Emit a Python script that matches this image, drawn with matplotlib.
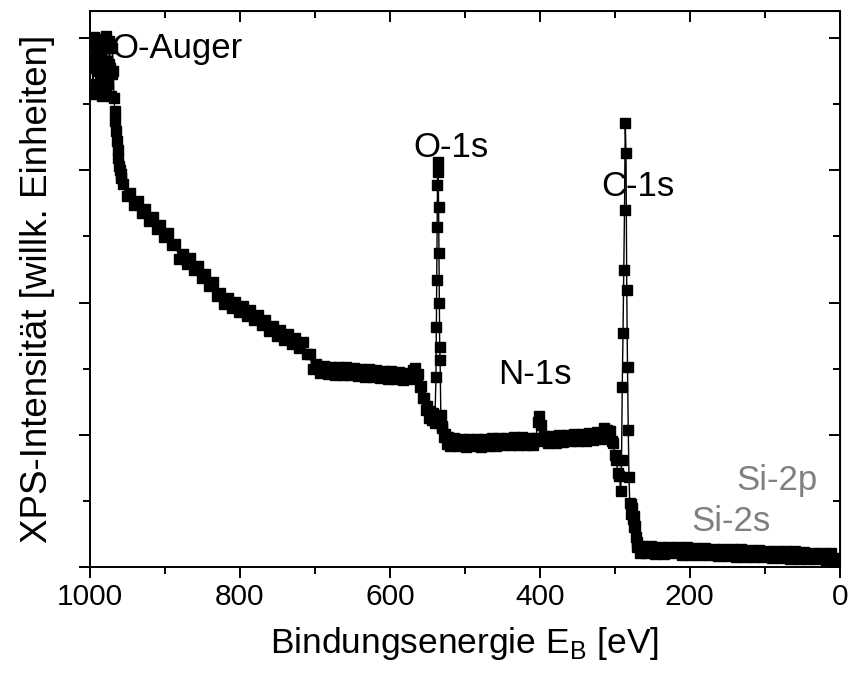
import numpy as np
import matplotlib
matplotlib.use('Agg')
import matplotlib.pyplot as plt
from matplotlib.ticker import MultipleLocator, NullFormatter

plt.rcParams['font.family'] = ['Liberation Sans', 'DejaVu Sans']
plt.rcParams['mathtext.fontset'] = 'custom'
plt.rcParams['mathtext.rm'] = 'Liberation Sans'

# XPS-Übersichtsspektrum, Werte (willk. Einheiten)
energie = [
    998, 997, 996, 995, 994, 993, 992, 991, 990, 989, 988, 987, 986, 985, 984,
    983, 982, 981, 980, 979, 978, 977, 976, 975, 974, 973, 972, 971, 970, 969,
    968, 967, 966, 965, 964, 963, 962, 961, 960, 959, 958,
    956, 951, 946, 941, 936, 931, 926, 921, 916, 911, 906, 901, 896, 891, 886,
    881, 876, 871, 866, 861, 856, 851, 846, 841, 836, 831, 826, 821, 816, 811,
    806, 801, 796, 791, 786, 781, 776, 771, 766, 761, 756, 751, 746, 741, 736,
    731, 726, 721, 716, 711, 707, 703, 698, 693,
    688, 683, 678, 673, 668, 663, 658, 653, 648, 643, 638, 633, 628, 623, 618,
    613, 608, 603, 598, 593, 588, 583, 578, 573, 569,
    566, 564, 562, 560, 558, 556, 554, 552, 550, 548, 546, 544, 542, 540,
    538.5, 538, 537.5, 537, 536.5, 536, 535.5, 535, 534.5, 534, 533.5, 533,
    532, 531, 530, 528, 526, 524, 522, 520, 518,
    514, 509, 504, 499, 494, 489, 484, 479, 474, 469, 464, 459, 454, 449, 444,
    439, 434, 429, 424, 419, 414, 409, 405,
    403, 401, 399, 397,
    394, 389, 384, 379, 374, 369, 364, 359, 354, 349, 344, 339, 334, 329, 324,
    319, 314, 310, 308, 306, 304, 302, 300, 298, 296, 294, 292,
    291, 290, 289, 288, 287, 286, 285, 284, 283, 282, 281, 280,
    279, 278, 277, 276, 275, 274, 273, 272, 271, 270, 268, 266,
    264, 258, 252, 246, 240, 234, 228, 222, 216, 210, 204, 198, 192, 186, 180,
    174, 168, 162, 156, 150, 144, 138, 132, 126, 120, 114, 108, 102, 96, 90,
    84, 78, 72, 66, 60, 54, 48, 42, 36, 30, 24, 18, 12, 8, 5, 3,
]
intensitaet = [
    7.95, 7.55, 7.15, 7.60, 8.02, 7.70, 7.30, 7.65, 7.85, 7.50, 7.18, 7.50, 7.80, 7.45, 7.12,
    7.55, 7.98, 7.60, 7.22, 7.60, 8.03, 7.65, 7.30, 7.60, 7.95, 7.55, 7.12, 7.45, 7.85, 7.50,
    7.10, 6.90, 6.75, 6.60, 6.45, 6.30, 6.18, 6.07, 6.00, 5.95, 5.88,
    5.79, 5.61, 5.66, 5.48, 5.54, 5.36, 5.42, 5.24, 5.29, 5.11, 5.17, 4.99, 5.05, 4.87, 4.89,
    4.66, 4.73, 4.58, 4.67, 4.49, 4.55, 4.37, 4.43, 4.25, 4.31, 4.10, 4.14, 3.98, 4.07, 3.92,
    4.01, 3.86, 3.95, 3.80, 3.89, 3.74, 3.81, 3.66, 3.74, 3.57, 3.65, 3.50, 3.58, 3.43, 3.52,
    3.37, 3.46, 3.31, 3.40, 3.22, 3.22, 3.00, 3.07, 2.94,
    3.04, 2.92, 3.03, 2.91, 3.02, 2.90, 3.02, 2.90, 3.01, 2.89, 3.00, 2.88, 2.99, 2.87, 2.98,
    2.86, 2.97, 2.85, 2.96, 2.84, 2.95, 2.83, 2.94, 2.84, 2.98,
    3.01, 2.88, 2.92, 2.72, 2.74, 2.55, 2.56, 2.38, 2.44, 2.26, 2.36, 2.22, 2.33, 2.18,
    2.87, 3.63, 4.34, 5.14, 5.78, 6.13, 5.98, 5.45, 4.75, 3.99, 3.33, 3.13,
    2.30, 2.10, 2.14, 1.96, 2.02, 1.86, 1.96, 1.83, 1.93,
    1.95, 1.83, 1.94, 1.82, 1.94, 1.83, 1.93, 1.82, 1.94, 1.83, 1.95, 1.83, 1.95, 1.84, 1.95,
    1.84, 1.96, 1.85, 1.96, 1.84, 1.95, 1.85, 1.95,
    2.20, 2.28, 2.15, 1.90,
    1.98, 1.87, 1.99, 1.88, 2.00, 1.89, 2.00, 1.90, 2.01, 1.90, 2.02, 1.91, 2.03, 1.92, 2.04,
    1.94, 2.10, 2.08, 1.98, 2.06, 1.90, 1.88, 1.70, 1.62, 1.42, 1.38, 1.15,
    1.62, 2.72, 3.54, 4.49, 5.40, 6.72, 6.26, 4.19, 3.03, 2.07, 1.36, 0.97,
    0.95, 0.80, 0.90, 0.72, 0.78, 0.60, 0.62, 0.45, 0.38, 0.30, 0.32, 0.22,
    0.32, 0.21, 0.32, 0.20, 0.31, 0.20, 0.31, 0.22, 0.30, 0.19, 0.30, 0.19, 0.29, 0.18, 0.29,
    0.18, 0.28, 0.17, 0.28, 0.17, 0.27, 0.16, 0.27, 0.16, 0.26, 0.15, 0.26, 0.15, 0.25, 0.14,
    0.25, 0.14, 0.24, 0.13, 0.24, 0.13, 0.23, 0.12, 0.22, 0.12, 0.22, 0.11, 0.21, 0.10, 0.14, 0.06,
]

# Beschriftungen der Linien
peak_namen = ['O-Auger', 'O-1s', 'C-1s', 'N-1s', 'Si-2p', 'Si-2s']
peak_x = [972, 569, 318, 455, 138, 198]
peak_y = [7.70, 6.20, 5.61, 2.77, 1.16, 0.54]
peak_farbe = ['black', 'black', 'black', 'black', '#808080', '#808080']

fig = plt.figure(figsize=(8.49, 6.8), dpi=100)
ax = fig.add_axes([0.106, 0.166, 0.883, 0.818])

ax.plot(energie, intensitaet, color='black', lw=1.0, marker='s', ms=6.5,
        mec='black', mfc='black')

for name, x, y, c in zip(peak_namen, peak_x, peak_y, peak_farbe):
    ax.text(x, y, name, fontsize=25, color=c, ha='left', va='baseline')

ax.set_xlim(1000, 0)
ax.set_ylim(0, 8.41)

ax.xaxis.set_major_locator(MultipleLocator(200))
ax.xaxis.set_minor_locator(MultipleLocator(100))
ax.yaxis.set_major_locator(MultipleLocator(2))
ax.yaxis.set_minor_locator(MultipleLocator(1))
ax.yaxis.set_major_formatter(NullFormatter())

ax.tick_params(which='both', direction='out', width=1.4, labelsize=21.5)
ax.tick_params(which='major', length=8)
ax.tick_params(which='minor', length=5)
for s in ax.spines.values():
    s.set_linewidth(1.4)

# gespiegelte Ticks oben/rechts nach innen
top = ax.secondary_xaxis('top')
top.xaxis.set_major_locator(MultipleLocator(200))
top.xaxis.set_minor_locator(MultipleLocator(100))
top.tick_params(which='both', direction='in', width=1.4, labeltop=False)
top.tick_params(which='major', length=8)
top.tick_params(which='minor', length=5)
right = ax.secondary_yaxis('right')
right.yaxis.set_major_locator(MultipleLocator(2))
right.yaxis.set_minor_locator(MultipleLocator(1))
right.tick_params(which='both', direction='in', width=1.4, labelright=False)
right.tick_params(which='major', length=8)
right.tick_params(which='minor', length=5)

ax.set_xlabel(r'Bindungsenergie E$_\mathrm{B}$ [eV]', fontsize=25.5, labelpad=10)
ax.set_ylabel('XPS-Intensität [willk. Einheiten]', fontsize=26.5, labelpad=14)

fig.savefig('out.png', dpi=100)
